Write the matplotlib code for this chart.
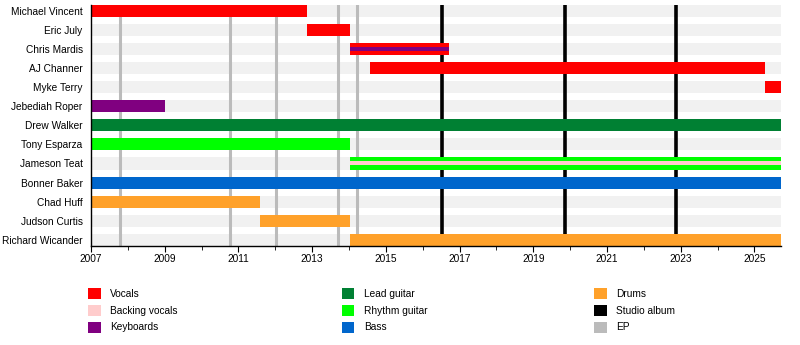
import matplotlib
matplotlib.use("Agg")
import matplotlib.pyplot as plt
from matplotlib.patches import Rectangle

plt.rcParams['font.family'] = ['Liberation Sans', 'DejaVu Sans']

# ---- data ----
members = ["Michael Vincent", "Eric July", "Chris Mardis", "AJ Channer", "Myke Terry",
           "Jebediah Roper", "Drew Walker", "Tony Esparza", "Jameson Teat", "Bonner Baker",
           "Chad Huff", "Judson Curtis", "Richard Wicander"]
START_YEAR = 2007.0
END_YEAR = 2025.72
starts = [2007.0, 2012.85, 2014.02, 2014.57, 2025.29,
          2007.0, 2007.0, 2007.0, 2014.02, 2007.0,
          2007.0, 2011.59, 2014.02]
ends = [2012.85, 2014.02, 2016.71, 2025.29, END_YEAR,
        2009.0, END_YEAR, 2014.02, END_YEAR, END_YEAR,
        2011.59, 2014.02, END_YEAR]
roles = ["Vocals", "Vocals", "Vocals", "Vocals", "Vocals",
         "Keyboards", "Lead guitar", "Rhythm guitar", "Rhythm guitar", "Bass",
         "Drums", "Drums", "Drums"]
# secondary roles shown as thin stripe in the middle of the bar
second_members = ["Chris Mardis", "Jameson Teat"]
second_roles = ["Keyboards", "Backing vocals"]

ep_years = [2007.8, 2010.77, 2012.03, 2013.69, 2014.21]
album_years = [2016.53, 2019.87, 2022.88]

legend_labels = ["Vocals", "Backing vocals", "Keyboards",
                 "Lead guitar", "Rhythm guitar", "Bass",
                 "Drums", "Studio album", "EP"]
colors = {"Vocals": "#ff0000", "Backing vocals": "#ffcccc", "Keyboards": "#800080",
          "Lead guitar": "#008033", "Rhythm guitar": "#00ff00", "Bass": "#0066cc",
          "Drums": "#ffa12a", "Studio album": "#000000", "EP": "#bbbbbb"}

# ---- figure ----
W, H = 800, 345
fig = plt.figure(figsize=(W / 100, H / 100), dpi=100)
ax_left, ax_right, ax_top, ax_bottom = 91, 781, 5, 245.7
ax = fig.add_axes([ax_left / W, 1 - ax_bottom / H, (ax_right - ax_left) / W, (ax_bottom - ax_top) / H])

bar_h = 0.63
ypos = list(range(len(members)))

# background stripes
ax.barh(ypos, [END_YEAR - START_YEAR] * len(members), left=START_YEAR, height=bar_h,
        color="#f1f1f1", zorder=0, linewidth=0)

# event lines
for x in ep_years:
    ax.axvline(x, color=colors["EP"], lw=2.2, zorder=1)
for x in album_years:
    ax.axvline(x, color=colors["Studio album"], lw=2.6, zorder=1)

# main bars
for y, s, e, r in zip(ypos, starts, ends, roles):
    ax.barh(y, e - s, left=s, height=bar_h, color=colors[r], zorder=2, linewidth=0)

# secondary stripes
for m, r in zip(second_members, second_roles):
    i = members.index(m)
    ax.barh(i, ends[i] - starts[i], left=starts[i], height=bar_h / 3,
            color=colors[r], zorder=3, linewidth=0)

ax.set_xlim(START_YEAR, END_YEAR)
ax.set_ylim(12.31, -0.31)
ax.set_yticks(ypos)
ax.set_yticklabels(members, fontsize=7.3)
ax.tick_params(axis="y", length=0, pad=6)
ax.set_xticks(range(2007, 2026, 2))
ax.set_xticks(range(2007, 2026), minor=True)
ax.tick_params(axis="x", which="major", length=4, width=0.8, labelsize=7.3, pad=2)
ax.tick_params(axis="x", which="minor", length=3, width=0.6)
ax.spines["top"].set_visible(False)
ax.spines["right"].set_visible(False)
ax.spines["left"].set_linewidth(1.0)
ax.spines["bottom"].set_linewidth(1.0)
ax.set_facecolor("white")

# ---- legend (manual, three columns) ----
col_x = [88.3, 341.7, 594.3]
row_y = [288.3, 305.0, 321.7]
bw, bh = 12.5, 11.0
for k, lab in enumerate(legend_labels):
    c, r = divmod(k, 3)
    x0, y0 = col_x[c], row_y[r]
    fig.patches.append(Rectangle((x0 / W, 1 - (y0 + bh) / H), bw / W, bh / H,
                                 transform=fig.transFigure, color=colors[lab], lw=0))
    fig.text((x0 + 22) / W, 1 - (y0 + bh / 2) / H, lab, fontsize=7.3,
             va="center", ha="left")

fig.savefig("out.png", dpi=100, facecolor="white")
